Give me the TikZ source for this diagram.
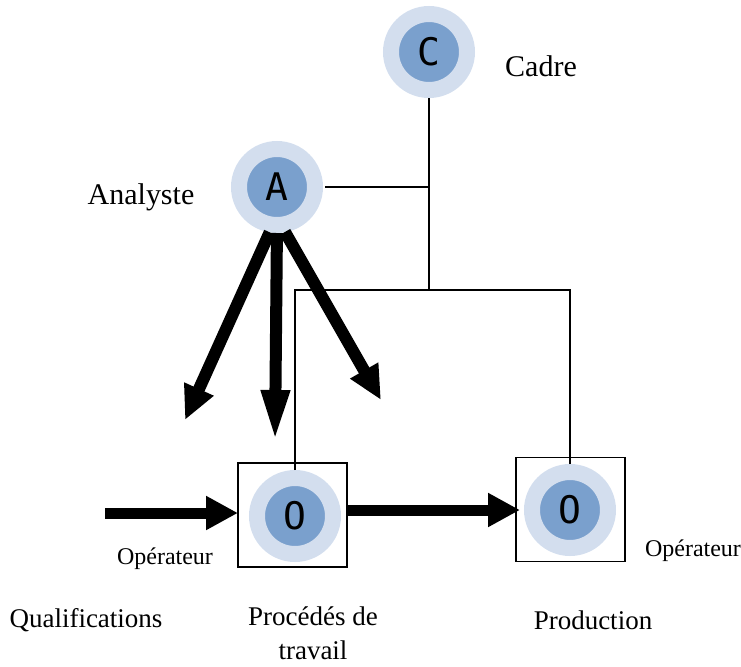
\documentclass[tikz,border=0pt]{standalone}
\usepackage{fontspec}
\setmainfont{Liberation Serif}
\newfontfamily\letterfont{DejaVu Sans Mono}
\usetikzlibrary{arrows.meta}
\definecolor{ringblue}{RGB}{211, 222, 238}
\definecolor{coreblue}{RGB}{122, 160, 205}

\begin{document}
\begin{tikzpicture}[x=0.5pt, y=-0.5pt,
        agent/.style={circle, fill=coreblue, draw=ringblue, line width=8pt, minimum size=38pt, inner sep=0pt, outer sep=0pt, font=\letterfont\fontsize{19}{19}\selectfont},
        frame/.style={rectangle, draw, line width=0.8pt, minimum width=54.5pt, minimum height=52pt, inner sep=0pt, outer sep=0pt},
        link/.style={line width=0.8pt},
        bigarrow/.style={line width=6pt, -{Triangle[length=17pt, width=15pt]}},
        longarrow/.style={line width=6pt, -{Triangle[length=26pt, width=13pt]}},
        flow/.style={line width=5.5pt, -{Triangle[length=16pt, width=16pt]}},
        label/.style={font=\fontsize{15}{18}\selectfont},
        small/.style={font=\fontsize{12}{14}\selectfont},
        caption/.style={font=\fontsize{13.5}{17}\selectfont, align=center}
      ]
        \useasboundingbox (0,0) rectangle (741,666);

        % agents
        \node[agent] at (429, 52)  (cadre)    {C};
        \node[agent] at (277, 187) (analyste) {A};
        \node[frame] at (292.5, 515) (box1) {};
        \node[frame] at (570.5, 509.5) (box2) {};
        \node[agent] at (295, 516) (op1) {O};
        \node[agent] at (570, 510) (op2) {O};

        \node[label] at (541, 66)  (lcadre)    {Cadre};
        \node[label] at (141, 197) (lanalyste) {Analyste};
        \node[small] at (165, 559) (lop1) {Opérateur};
        \node[small] at (693, 551) (lop2) {Opérateur};

        \node[caption] at (86, 620)  (qualif) {Qualifications};
        \node[caption] at (313, 633) (procedes) {Procédés de\\travail};
        \node[caption] at (593, 620) (prod) {Production};

        % hierarchy lines
        \coordinate (jct) at (429, 290);
        \draw[link, shorten <=4pt] (cadre.south) -- (jct);
        \draw[link, shorten <=5pt] (analyste.east) -- (analyste.east -| jct);
        \draw[link, shorten <=4pt] (op1.north) |- (jct);
        \draw[link, shorten <=4pt] (op2.north) |- (jct);

        % standardisation arrows
        \coordinate (tip1) at (185, 420);
        \coordinate (tip2) at (275, 442);
        \coordinate (tip3) at (381, 400);
        \draw[bigarrow, shorten <=4pt] ([xshift=-2pt]analyste.south) -- (tip1);
        \draw[longarrow, shorten <=4pt] (analyste.south) -- (tip2);
        \draw[bigarrow, shorten <=4pt] ([xshift=2pt]analyste.south) -- (tip3);

        % flow
        \coordinate (qin) at (105, 513);
        \draw[flow] (qin) -- (qin -| box1.west);
        \draw[flow] (box1.east |- op2) -- ([xshift=2pt]box2.west |- op2);
      \end{tikzpicture}
\end{document}
